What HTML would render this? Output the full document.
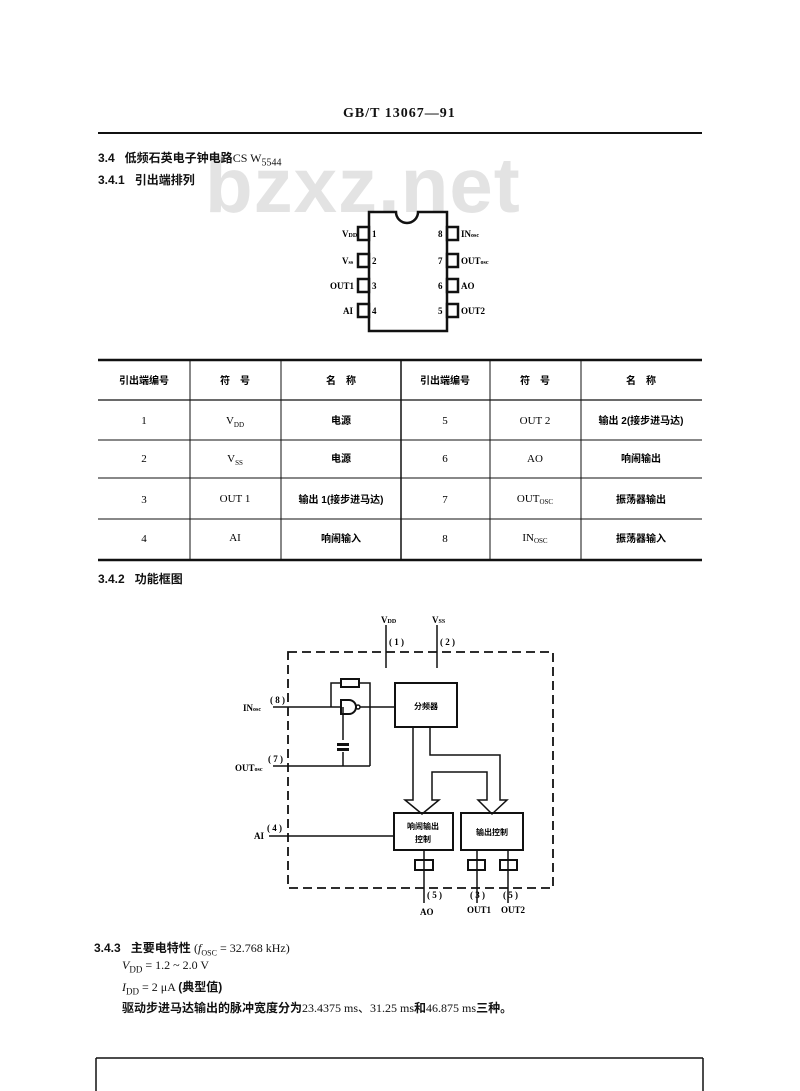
<!DOCTYPE html>
<html><head><meta charset="utf-8"><style>
body{margin:0;background:#fff;}
.p{position:relative;width:800px;height:1091px;overflow:hidden;background:#fff;font-family:"Liberation Serif","Noto Serif CJK SC",serif;color:#111;}
.a{position:absolute;white-space:nowrap;}
.b{font-weight:bold;}
.cj{font-family:"Liberation Sans","Noto Sans CJK SC",sans-serif;font-weight:bold;}
</style></head><body><div class="p">
<div class="a b" style="left:343px;top:106px;font-size:14px;letter-spacing:1px">GB/T 13067—91</div>
<div class="a" style="left:98px;top:132px;width:604px;height:2px;background:#111"></div>
<div class="a" style="left:205px;top:140px;font-family:'Liberation Sans',sans-serif;font-weight:bold;font-size:78px;color:#e3e3e3;letter-spacing:1px">bzxz.net</div>
<div class="a cj" style="left:98px;top:149px;font-size:12px">3.4&nbsp;&nbsp;&nbsp;低频石英电子钟电路<span style="font-family:'Liberation Serif',serif;font-weight:normal">CS W<sub style="font-size:10px">5544</sub></span></div>
<div class="a cj" style="left:98px;top:171px;font-size:12px">3.4.1&nbsp;&nbsp;&nbsp;引出端排列</div>

<svg class="a" style="left:0;top:0" width="800" height="1091" viewBox="0 0 800 1091" font-family="Liberation Serif, Noto Serif CJK SC, serif">
<!-- chip -->
<path d="M369 212 H396 A11 11 0 0 0 418 212 H447 V331 H369 Z" fill="none" stroke="#111" stroke-width="2.5"/>
<g fill="none" stroke="#111" stroke-width="2.5">
<rect x="358" y="227" width="11" height="13"/><rect x="358" y="254" width="11" height="13"/>
<rect x="358" y="279" width="11" height="13"/><rect x="358" y="304" width="11" height="13"/>
<rect x="447" y="227" width="11" height="13"/><rect x="447" y="254" width="11" height="13"/>
<rect x="447" y="279" width="11" height="13"/><rect x="447" y="304" width="11" height="13"/>
</g>
<g font-size="9" font-weight="bold">
<text x="372" y="237">1</text><text x="372" y="264">2</text><text x="372" y="289">3</text><text x="372" y="314">4</text>
<text x="438" y="237">8</text><text x="438" y="264">7</text><text x="438" y="289">6</text><text x="438" y="314">5</text>
<text x="342" y="237">V<tspan font-size="6">DD</tspan></text><text x="342" y="264">V<tspan font-size="6">ss</tspan></text>
<text x="330" y="289">OUT1</text><text x="343" y="314">AI</text>
<text x="461" y="237">IN<tspan font-size="6">osc</tspan></text><text x="461" y="264">OUT<tspan font-size="6">osc</tspan></text>
<text x="461" y="289">AO</text><text x="461" y="314">OUT2</text>
</g>
<!-- table -->
<g stroke="#111">
<line x1="98" y1="360" x2="702" y2="360" stroke-width="2.5"/>
<line x1="98" y1="400" x2="702" y2="400" stroke-width="1.2"/>
<line x1="98" y1="440" x2="702" y2="440" stroke-width="1"/>
<line x1="98" y1="478" x2="702" y2="478" stroke-width="1"/>
<line x1="98" y1="519" x2="702" y2="519" stroke-width="1"/>
<line x1="98" y1="560" x2="702" y2="560" stroke-width="2.5"/>
<line x1="190" y1="360" x2="190" y2="560" stroke-width="1"/>
<line x1="281" y1="360" x2="281" y2="560" stroke-width="1"/>
<line x1="401" y1="360" x2="401" y2="560" stroke-width="1.5"/>
<line x1="490" y1="360" x2="490" y2="560" stroke-width="1"/>
<line x1="581" y1="360" x2="581" y2="560" stroke-width="1"/>
</g>
<g font-size="10" text-anchor="middle" font-family="Liberation Sans, Noto Sans CJK SC, sans-serif" font-weight="bold">
<text x="144" y="384">引出端编号</text><text x="235" y="384">符　号</text><text x="341" y="384">名　称</text>
<text x="445" y="384">引出端编号</text><text x="535" y="384">符　号</text><text x="641" y="384">名　称</text>
<text x="341" y="424">电源</text><text x="341" y="462">电源</text><text x="341" y="503">输出 1(接步进马达)</text><text x="341" y="542">响闹输入</text>
<text x="641" y="424">输出 2(接步进马达)</text><text x="641" y="462">响闹输出</text><text x="641" y="503">振荡器输出</text><text x="641" y="542">振荡器输入</text>
</g>
<g font-size="11" text-anchor="middle">
<text x="144" y="424">1</text><text x="144" y="462">2</text><text x="144" y="503">3</text><text x="144" y="542">4</text>
<text x="445" y="424">5</text><text x="445" y="462">6</text><text x="445" y="503">7</text><text x="445" y="542">8</text>
<text x="235" y="424">V<tspan font-size="7" dy="3">DD</tspan></text><text x="235" y="462">V<tspan font-size="7" dy="3">SS</tspan></text>
<text x="235" y="502">OUT 1</text><text x="235" y="541">AI</text>
<text x="535" y="424">OUT 2</text><text x="535" y="462">AO</text>
<text x="535" y="502">OUT<tspan font-size="7" dy="2">OSC</tspan></text><text x="535" y="541">IN<tspan font-size="7" dy="2">OSC</tspan></text>
</g>
<!-- diagram -->
<rect x="288" y="652" width="265" height="236" fill="none" stroke="#111" stroke-width="1.8" stroke-dasharray="9 5"/>
<g stroke="#111" stroke-width="1.5" fill="none">
<line x1="386" y1="625" x2="386" y2="668"/><line x1="437" y1="625" x2="437" y2="668"/>
<line x1="273" y1="707" x2="341" y2="707"/>
<polyline points="331,707 331,683 341,683"/><polyline points="359,683 370,683 370,766"/>
<rect x="341" y="679" width="18" height="8" stroke-width="2"/>
<path d="M341 700 H349 A7 7 0 0 1 349 714 H341 Z" stroke-width="2"/>
<circle cx="358" cy="707" r="2"/>
<line x1="360" y1="707" x2="395" y2="707"/>
<rect x="395" y="683" width="62" height="44" stroke-width="2"/>
<line x1="343" y1="707" x2="343" y2="740"/><line x1="343" y1="752" x2="343" y2="766"/>
<line x1="273" y1="766" x2="370" y2="766"/>
<polyline points="413,727 413,800 405,800 422,814 439,800 432,800 432,772 487,772 487,800 478,800 492,814 507,800 500,800 500,755 430,755 430,727"/>
<rect x="394" y="813" width="59" height="37" stroke-width="2"/>
<rect x="461" y="813" width="62" height="37" stroke-width="2"/>
<line x1="269" y1="836" x2="394" y2="836"/>
<rect x="415" y="860" width="18" height="10" stroke-width="2"/><line x1="424" y1="850" x2="424" y2="903"/>
<rect x="468" y="860" width="17" height="10" stroke-width="2"/><line x1="477" y1="850" x2="477" y2="903"/>
<rect x="500" y="860" width="17" height="10" stroke-width="2"/><line x1="508" y1="850" x2="508" y2="903"/>
</g>
<rect x="337" y="743" width="12" height="3" fill="#111"/><rect x="337" y="748" width="12" height="3" fill="#111"/>
<g font-size="9" font-weight="bold">
<text x="381" y="623">V<tspan font-size="6">DD</tspan></text><text x="432" y="623">V<tspan font-size="6">SS</tspan></text>
<text x="389" y="645">( 1 )</text><text x="440" y="645">( 2 )</text>
<text x="270" y="703">( 8 )</text><text x="243" y="711">IN<tspan font-size="6">osc</tspan></text>
<text x="268" y="762">( 7 )</text><text x="235" y="771">OUT<tspan font-size="6">osc</tspan></text>
<text x="254" y="839">AI</text><text x="267" y="831">( 4 )</text>
<text x="427" y="898">( 5 )</text><text x="420" y="915">AO</text>
<text x="470" y="898">( 3 )</text><text x="503" y="898">( 5 )</text>
<text x="467" y="913">OUT1</text><text x="501" y="913">OUT2</text>
</g>
<g font-size="8" font-family="Liberation Sans, Noto Sans CJK SC, sans-serif" font-weight="bold" text-anchor="middle">
<text x="426" y="709">分频器</text>
<text x="423" y="829">响闹输出</text><text x="423" y="842">控制</text>
<text x="492" y="835">输出控制</text>
</g>
<line x1="96" y1="1058" x2="703" y2="1058" stroke="#111" stroke-width="1.5"/>
<line x1="96" y1="1058" x2="96" y2="1091" stroke="#111" stroke-width="1.5"/>
<line x1="703" y1="1058" x2="703" y2="1091" stroke="#111" stroke-width="1.5"/>
</svg>
<div class="a cj" style="left:98px;top:570px;font-size:12px">3.4.2&nbsp;&nbsp;&nbsp;功能框图</div>
<div class="a cj" style="left:94px;top:939px;font-size:12px">3.4.3&nbsp;&nbsp;&nbsp;主要电特性 <span style="font-family:'Liberation Serif',serif;font-weight:normal">(<i>f</i><sub style="font-size:8px">OSC</sub> = 32.768 kHz)</span></div>
<div class="a" style="left:122px;top:958px;font-size:12px"><i>V</i><sub style="font-size:9px">DD</sub> = 1.2 ~ 2.0 V</div>
<div class="a" style="left:122px;top:978px;font-size:12px"><i>I</i><sub style="font-size:9px">DD</sub> = 2 μA <span class="cj">(典型值)</span></div>
<div class="a cj" style="left:122px;top:999px;font-size:12px">驱动步进马达输出的脉冲宽度分为<span style="font-family:'Liberation Serif',serif;font-weight:normal">23.4375 ms、31.25 ms</span>和<span style="font-family:'Liberation Serif',serif;font-weight:normal">46.875 ms</span>三种。</div>
</div></body></html>
